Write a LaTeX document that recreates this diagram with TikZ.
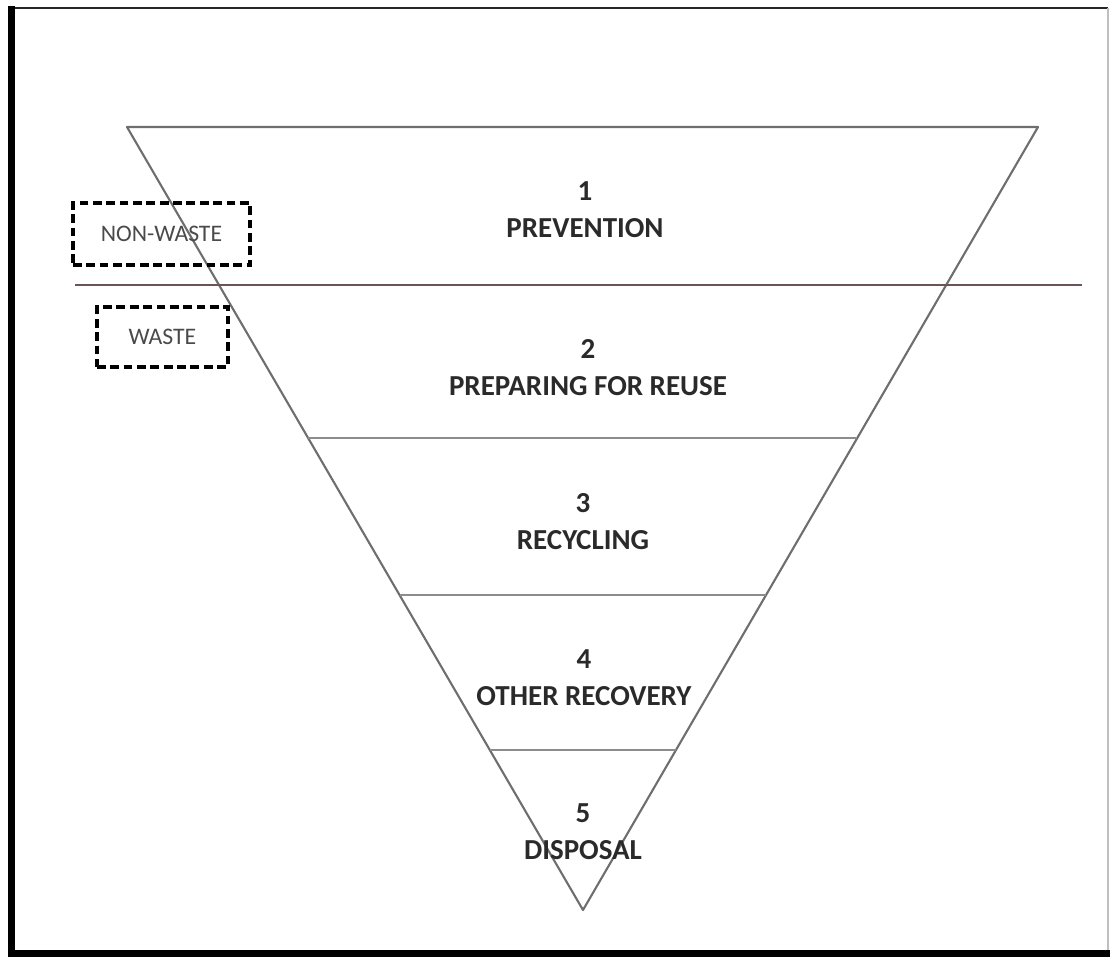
\documentclass[tikz,border=0pt]{standalone}
\usepackage{fontspec}
\setmainfont{Carlito}
\usepackage{xcolor}
\usetikzlibrary{calc}
\definecolor{edge}{HTML}{6E6E6E}
\definecolor{band}{HTML}{8C8C8C}
\definecolor{divide}{HTML}{6A5456}
\definecolor{ink}{HTML}{2A2A2A}
\definecolor{tag}{HTML}{4A4A4A}
\tikzset{
  level/.style={align=center, font=\fontsize{16.5}{21}\selectfont\bfseries, text=ink, inner sep=0pt},
  zone/.style={draw=black, line width=2.1pt, dash pattern=on 5pt off 2.6pt,
    font=\fontsize{13.5}{15}\selectfont, text=tag},
  cut/.style={draw=band, line width=0.9pt}
}
\begin{document}
\begin{tikzpicture}[x=0.02cm, y=-0.02cm]
\useasboundingbox (0,0) rectangle (1113,957);
% frame
\draw[line width=1.6pt, black!85] (11,8) -- (1108,8);
\draw[line width=0.8pt, black!25] (1108,8) -- (1108,953);
\draw[line width=4pt, black] (11.5,6) -- (11.5,954) -- (1110,954);

% inverted triangle
\coordinate (tl) at (127,127);
\coordinate (tr) at (1038,127);
\coordinate (bt) at (583,910);
\draw[edge, line width=1.2pt, line join=round] (tl) -- (tr) -- (bt) -- cycle;

% bands
\foreach \t in {0.397,0.598,0.796}
  \draw[cut] ($(tl)!\t!(bt)$) -- ($(tr)!\t!(bt)$);

% waste / non-waste line
\coordinate (dl) at (75,285);
\coordinate (dr) at (1082,285);
\draw[divide, line width=1.7pt] (dl) -- (dr);

\node[zone, minimum width=177*0.02cm, minimum height=62*0.02cm] (nw) at (161.5,234) {NON-WASTE};
\node[zone, minimum width=131*0.02cm, minimum height=60*0.02cm] (w) at (162.5,337) {WASTE};

\node[level] (l1) at (585,210) {1\\PREVENTION};
\node[level] (l2) at (588,368) {2\\PREPARING FOR REUSE};
\node[level] (l3) at (583,522) {3\\RECYCLING};
\node[level] (l4) at (584,678) {4\\OTHER RECOVERY};
\node[level] (l5) at (583,832) {5\\DISPOSAL};
\end{tikzpicture}
\end{document}
